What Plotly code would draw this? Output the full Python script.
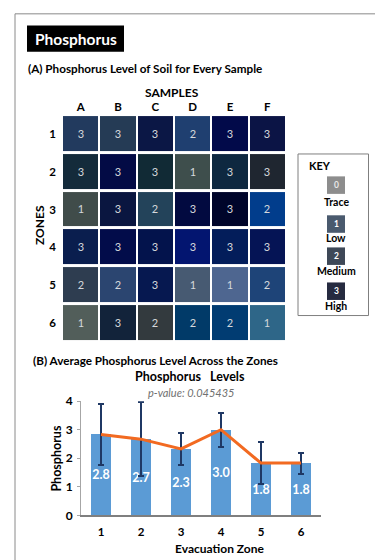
import plotly.graph_objects as go

W, H = 375, 560
FONT = "Lato, Liberation Sans, sans-serif"

# ---------------- data ----------------
samples = ["A", "B", "C", "D", "E", "F"]
zones = ["1", "2", "3", "4", "5", "6"]
levels = [
    [3, 3, 3, 2, 3, 3],
    [3, 3, 3, 1, 3, 3],
    [1, 3, 2, 3, 3, 2],
    [3, 3, 3, 3, 3, 3],
    [2, 2, 3, 1, 1, 2],
    [1, 3, 2, 2, 2, 1],
]
cell_colors = [
    ["#223A5E", "#253B55", "#0B1745", "#1F3F70", "#020A4A", "#0B1445"],
    ["#142B3B", "#030B45", "#112A35", "#3E4E4C", "#0E2840", "#1F2630"],
    ["#404C4A", "#0A1640", "#23435A", "#020A40", "#00052A", "#013D8C"],
    ["#0A1E4E", "#020C4A", "#03134C", "#031570", "#031D5A", "#051455"],
    ["#2E3D50", "#2B4570", "#061850", "#475A72", "#4E6690", "#1E4478"],
    ["#525E5A", "#12233A", "#333A3E", "#013A68", "#013C72", "#2E6688"],
]
key_levels = ["0", "1", "2", "3"]
key_names = ["Trace", "Low", "Medium", "High"]
key_colors = ["#8D8D8D", "#4A5A6E", "#3E4857", "#262B40"]

zone_ids = [1, 2, 3, 4, 5, 6]
zone_means = [2.83, 2.67, 2.33, 3.0, 1.83, 1.83]
zone_err = [1.08, 1.30, 0.56, 0.60, 0.73, 0.37]
p_value = "0.045435"


def X(px):
    return px / W


def Y(py):
    return 1 - py / H


# heatmap with per-cell colours: z = cell index, discrete colour scale
n = 36
zidx = [[r * 6 + c for c in range(6)] for r in range(6)]
flat = [c for row in cell_colors for c in row]
cs = []
for k, col in enumerate(flat):
    cs.append([k / n, col])
    cs.append([(k + 1) / n, col])

fig = go.Figure()
fig.add_trace(go.Heatmap(
    x=samples, y=zones, z=zidx, zmin=-0.5, zmax=n - 0.5,
    colorscale=cs, showscale=False, xgap=2, ygap=3,
    text=[[str(v) for v in row] for row in levels], texttemplate="%{text}",
    textfont=dict(family=FONT, size=11, color="#D5D8DC"),
    hoverinfo="skip", xaxis="x", yaxis="y",
))

# bar chart
fig.add_trace(go.Bar(
    x=zone_ids, y=zone_means, width=0.5, marker=dict(color="#5B9BD5", line=dict(width=0)),
    error_y=dict(type="data", array=zone_err, visible=True, color="#1F3864", thickness=2, width=3),
    texttemplate="%{y:.1f}", textposition="inside", insidetextanchor="middle", textangle=0,
    textfont=dict(family=FONT, size=12.5, color="white", weight="bold"),
    xaxis="x2", yaxis="y2", cliponaxis=False, showlegend=False,
))
fig.add_trace(go.Scatter(
    x=zone_ids, y=zone_means, mode="lines", line=dict(color="#F26A21", width=3),
    xaxis="x2", yaxis="y2", showlegend=False, hoverinfo="skip", cliponaxis=False,
))

shapes = []
annotations = []
# outer frame
shapes.append(dict(type="rect", xref="paper", yref="paper", x0=X(15), x1=X(420), y0=Y(620), y1=Y(6),
                   line=dict(color="#8A8A8A", width=1), layer="below"))
# title box
shapes.append(dict(type="rect", xref="paper", yref="paper", x0=X(27), x1=X(124), y0=Y(45), y1=Y(18),
                   fillcolor="black", line=dict(width=0)))
annotations.append(dict(text="Phosphorus", x=X(75.5), y=Y(31.5), xref="paper", yref="paper",
                        showarrow=False, xanchor="center", yanchor="middle",
                        font=dict(family=FONT, size=15.5, color="white", weight="bold")))
annotations.append(dict(text="(A) Phosphorus Level of Soil for Every Sample", x=X(26), y=Y(62),
                        xref="paper", yref="paper", showarrow=False, xanchor="left", yanchor="middle",
                        font=dict(family=FONT, size=11.7, color="black", weight="bold")))
annotations.append(dict(text="SAMPLES", x=X(172), y=Y(87), xref="paper", yref="paper",
                        showarrow=False, xanchor="center", yanchor="middle",
                        font=dict(family=FONT, size=12, color="black", weight="bold")))
annotations.append(dict(text="ZONES", x=X(39), y=Y(223), xref="paper", yref="paper", textangle=-90,
                        showarrow=False, xanchor="center", yanchor="middle",
                        font=dict(family=FONT, size=12, color="black", weight="bold")))

# key box
shapes.append(dict(type="rect", xref="paper", yref="paper", x0=X(298), x1=X(368.5), y0=Y(316), y1=Y(150),
                   line=dict(color="#7F7F7F", width=1)))
annotations.append(dict(text="KEY", x=X(307), y=Y(162), xref="paper", yref="paper",
                        showarrow=False, xanchor="left", yanchor="middle",
                        font=dict(family=FONT, size=11, color="black", weight="bold")))
sq_tops = [173, 213, 246, 282]
lab_y = [199, 236.5, 270, 306.5]
for i in range(4):
    t = sq_tops[i]
    shapes.append(dict(type="rect", xref="paper", yref="paper", x0=X(327), x1=X(345), y0=Y(t + 18), y1=Y(t),
                       fillcolor=key_colors[i], line=dict(width=0)))
    annotations.append(dict(text=key_levels[i], x=X(336), y=Y(t + 9), xref="paper", yref="paper",
                            showarrow=False, xanchor="center", yanchor="middle",
                            font=dict(family=FONT, size=8.5, color="#E8E8E8" if i == 0 else "white", weight="bold")))
    annotations.append(dict(text=key_names[i], x=X(336), y=Y(lab_y[i]), xref="paper", yref="paper",
                            showarrow=False, xanchor="center", yanchor="middle",
                            font=dict(family=FONT, size=10.5, color="black", weight="bold")))

# part B texts
annotations.append(dict(text="(B) Average Phosphorus Level Across the Zones", x=X(31), y=Y(362),
                        xref="paper", yref="paper", showarrow=False, xanchor="left", yanchor="middle",
                        font=dict(family=FONT, size=11.7, color="black", weight="bold")))
annotations.append(dict(text="Phosphorus&nbsp;&nbsp; Levels", x=X(190), y=Y(379), xref="paper", yref="paper",
                        showarrow=False, xanchor="center", yanchor="middle",
                        font=dict(family=FONT, size=12.5, color="black", weight="bold")))
annotations.append(dict(text="<i>p-value: " + p_value + "</i>", x=X(191), y=Y(395), xref="paper", yref="paper",
                        showarrow=False, xanchor="center", yanchor="middle",
                        font=dict(family=FONT, size=11, color="#707070")))
annotations.append(dict(text="Phosphorus", x=X(57), y=Y(463), xref="paper", yref="paper", textangle=-90,
                        showarrow=False, xanchor="center", yanchor="middle",
                        font=dict(family=FONT, size=12.5, color="black", weight="bold")))
annotations.append(dict(text="Evacuation Zone", x=X(219), y=Y(555), xref="paper", yref="paper",
                        showarrow=False, xanchor="center", yanchor="middle",
                        font=dict(family=FONT, size=12, color="black", weight="bold")))

fig.update_layout(
    width=W, height=H, margin=dict(l=0, r=0, t=0, b=0),
    paper_bgcolor="white", plot_bgcolor="white",
    showlegend=False, bargap=0,
    uniformtext=dict(minsize=12, mode="show"),
    font=dict(family=FONT, color="black"),
    xaxis=dict(domain=[X(62), X(286)], anchor="y", side="top", showgrid=False, zeroline=False,
               tickfont=dict(family=FONT, size=11.5, color="black", weight="bold"), ticks="",
               ticklabelstandoff=1, fixedrange=True),
    yaxis=dict(domain=[Y(343), Y(110)], anchor="x", autorange="reversed", showgrid=False, zeroline=False,
               tickfont=dict(family=FONT, size=11.5, color="black", weight="bold"), ticks="",
               ticklabelstandoff=5, fixedrange=True),
    xaxis2=dict(domain=[X(81), X(321)], anchor="y2", range=[0.5, 6.5], tickvals=zone_ids,
                showgrid=False, zeroline=False, showline=True, linecolor="#7F7F7F", linewidth=1.5,
                ticks="", tickfont=dict(family=FONT, size=11.5, color="black", weight="bold"),
                ticklabelstandoff=5, fixedrange=True),
    yaxis2=dict(domain=[Y(521.3), Y(404)], anchor="x2", range=[0, 4], dtick=1,
                showgrid=False, zeroline=False, showline=True, linecolor="#A6A6A6", linewidth=1,
                ticks="outside", ticklen=3, tickcolor="#A6A6A6",
                tickfont=dict(family=FONT, size=12, color="black", weight="bold"),
                ticklabelstandoff=2, fixedrange=True),
    shapes=shapes, annotations=annotations,
)

fig.write_html("out.html")
